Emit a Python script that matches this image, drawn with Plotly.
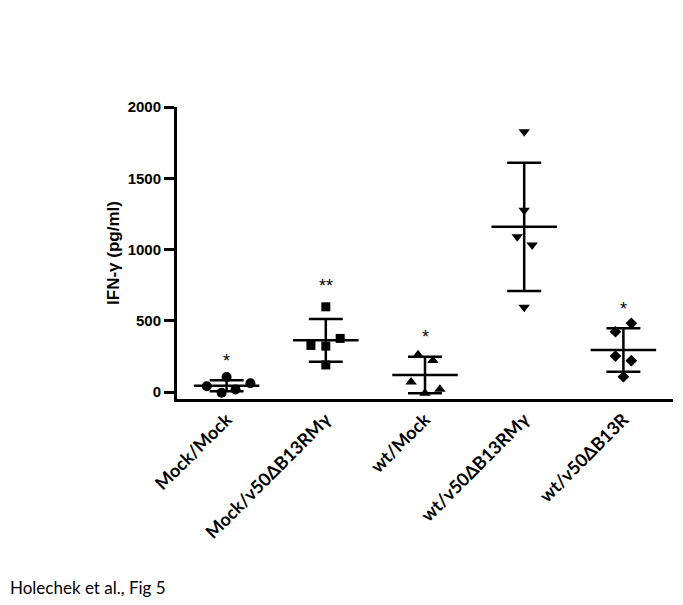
import plotly.graph_objects as go

categories = ["Mock/Mock", "Mock/v50ΔB13RMγ", "wt/Mock", "wt/v50ΔB13RMγ", "wt/v50ΔB13R"]
values = [
    [105, 40, 62, 18, -5],
    [598, 327, 322, 376, 190],
    [262, 222, 70, 20, -8],
    [1826, 1276, 1089, 1031, 594],
    [482, 423, 252, 220, 107],
]
jitter = [
    [0.0, -0.20, 0.24, 0.09, -0.05],
    [0.0, -0.15, 0.0, 0.145, 0.0],
    [-0.07, 0.08, -0.14, 0.15, 0.0],
    [0.0, 0.0, -0.07, 0.08, 0.0],
    [0.08, -0.08, -0.08, 0.08, 0.0],
]
means = [44, 363, 119, 1159, 295]
sds = [38, 150, 128, 450, 152]
stars = ["*", "**", "*", "", "*"]
star_y = [215, 745, 385, 0, 585]
symbols = ["circle", "square", "triangle-up", "triangle-down", "diamond"]
sizes = [10, 9, 10, 10, 9]

fig = go.Figure()
for i, cat in enumerate(categories):
    fig.add_trace(go.Scatter(
        x=[i + j for j in jitter[i]], y=values[i], mode="markers",
        marker=dict(symbol=symbols[i], size=sizes[i], color="black"),
        showlegend=False, name=cat))
    fig.add_trace(go.Scatter(
        x=[i - 0.33, i + 0.33], y=[means[i], means[i]], mode="lines",
        line=dict(color="black", width=2.5), showlegend=False, hoverinfo="skip"))
    fig.add_trace(go.Scatter(
        x=[i], y=[means[i]], mode="markers", marker=dict(size=0.1, color="black"),
        error_y=dict(type="data", array=[sds[i]], visible=True, color="black",
                     thickness=2.5, width=17),
        showlegend=False, hoverinfo="skip"))
    if stars[i]:
        fig.add_annotation(x=i, y=star_y[i], text=stars[i], showarrow=False,
                           font=dict(family="Liberation Sans, Arial", size=18, color="black"),
                           yanchor="middle")

fig.add_annotation(text="Holechek et al., Fig 5", xref="paper", yref="paper",
                   x=-169 / 496, y=(391 - 579) / 292, xanchor="left", yanchor="middle",
                   showarrow=False, font=dict(family="Lato, Carlito, sans-serif", size=17, color="black"))

fig.update_layout(
    width=675, height=597,
    margin=dict(l=169, r=10, t=99, b=206),
    plot_bgcolor="white", paper_bgcolor="white",
    xaxis=dict(range=[-0.5, 4.5], tickmode="array", tickvals=list(range(5)), ticktext=categories,
               tickangle=-45, showline=True, linecolor="black", linewidth=3, ticks="",
               showgrid=False, zeroline=False,
               tickfont=dict(family="Lato, sans-serif", size=18, color="black", weight="bold")),
    yaxis=dict(range=[-49, 2000], tickvals=[0, 500, 1000, 1500, 2000], showline=True,
               linecolor="black", linewidth=3, ticks="outside", ticklen=10, tickwidth=2.5,
               tickcolor="black", showgrid=False, zeroline=False,
               tickfont=dict(family="Liberation Sans, Arial", size=15, color="black", weight="bold"),
               title=dict(text="IFN-γ (pg/ml)", standoff=4,
                          font=dict(family="Liberation Sans, Arial", size=17, color="black", weight="bold"))),
)

fig.write_html("out.html")
